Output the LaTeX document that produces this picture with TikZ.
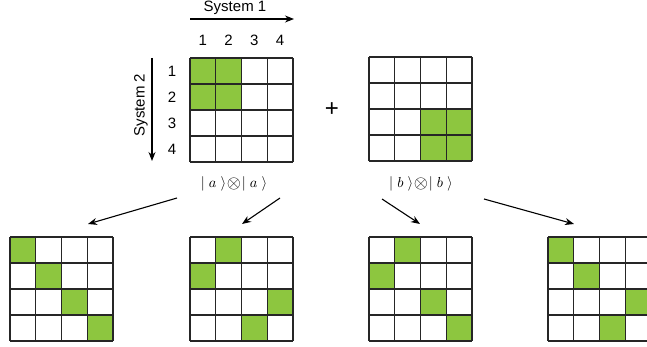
\documentclass[tikz,border=0pt]{standalone}
\usepackage{fontspec}
\setmainfont{Liberation Sans}
\usetikzlibrary{arrows.meta}
\definecolor{cellgreen}{RGB}{141,198,63}
\newcommand\cellgrid[3]{%
  \foreach \r/\c in {#3}{\fill[cellgreen] ({#1+(\c-1)*25.75},{#2+(\r-1)*26}) rectangle ++(25.75,26);}
  \foreach \i in {0,...,4}{
    \draw[gridline] ({#1+\i*25.75},#2) -- ++(0,104);
    \draw[gridline] (#1,{#2+\i*26}) -- ++(103,0);
  }%
}
\newcommand\ketpair[1]{\scalebox{1.45}{$|\;#1\;\rangle\!\mathbin{\raisebox{-0.1ex}{\scalebox{1.25}{$\otimes$}}}\!|\;#1\;\rangle$}}
\begin{document}
\begin{tikzpicture}[x=1pt,y=-1pt,
  gridline/.style={line width=1.3pt,black!85},
  lbl/.style={font=\fontsize{15}{17}\selectfont,inner sep=0pt},
  ket/.style={inner sep=0pt},
  arr/.style={line width=1.1pt,-{Stealth[length=9pt,width=7pt]}}]
\useasboundingbox (0,0) rectangle (647,347);
\clip (0,0) rectangle (647,347);
% grids
\cellgrid{190}{58}{1/1,1/2,2/1,2/2}
\cellgrid{369}{57}{3/3,3/4,4/3,4/4}
\cellgrid{10}{237}{1/1,2/2,3/3,4/4}
\cellgrid{190}{237}{1/2,2/1,3/4,4/3}
\cellgrid{369}{237}{1/2,2/1,3/3,4/4}
\cellgrid{548}{237}{1/1,2/2,3/4,4/3}
% system labels
\node[lbl] (s1) at (235,8) {System 1};
\coordinate (s1a) at (190,19);
\coordinate (s1b) at (294,19);
\draw[arr] (s1a) -- (s1b);
\node[lbl,rotate=90] (s2) at (141,105) {System 2};
\coordinate (s2a) at (152,58);
\coordinate (s2b) at (152,161);
\draw[arr] (s2a) -- (s2b);
% column and row numbers
\foreach \n in {1,...,4}{
  \node[lbl] (c\n) at ({190+(\n-0.5)*25.75},40) {\n};
  \node[lbl] (r\n) at (172,{58+(\n-0.5)*26}) {\n};
}
\node[font=\fontsize{24}{26}\selectfont,inner sep=0pt] (plus) at (332,110) {+};
\node[ket] (ka) at (234,184) {\ketpair{a}};
\node[ket] (kb) at (421,184) {\ketpair{b}};
% arrows
\coordinate (a1s) at (177,198); \coordinate (a1e) at (88,224);
\coordinate (a2s) at (280,198); \coordinate (a2e) at (242,224);
\coordinate (a3s) at (382,199); \coordinate (a3e) at (420,224);
\coordinate (a4s) at (484,199); \coordinate (a4e) at (574,224);
\draw[arr] (a1s) -- (a1e);
\draw[arr] (a2s) -- (a2e);
\draw[arr] (a3s) -- (a3e);
\draw[arr] (a4s) -- (a4e);
\end{tikzpicture}
\end{document}
